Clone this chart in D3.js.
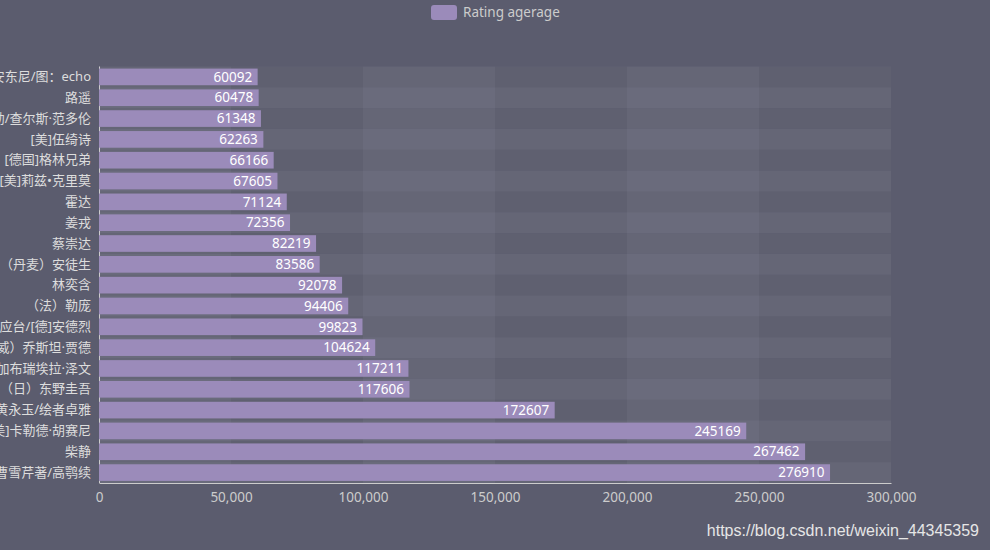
<!DOCTYPE html>
<html><head><meta charset="utf-8">
<script src="https://cdn.jsdelivr.net/npm/d3@7"></script>
<style>
html,body{margin:0;padding:0;background:#5b5c6e;}
svg{display:block;}
</style></head>
<body>
<svg id="chart" width="990" height="550"></svg>
<script>
// Categories from top to bottom as displayed
const authors = [
  "安东尼/图：echo",
  "路遥",
  "[美]莫提默·J.艾德勒/查尔斯·范多伦",
  "[美]伍绮诗",
  "[德国]格林兄弟",
  "[美]莉兹•克里莫",
  "霍达",
  "姜戎",
  "蔡崇达",
  "（丹麦）安徒生",
  "林奕含",
  "（法）勒庞",
  "龙应台/[德]安德烈",
  "（挪威）乔斯坦·贾德",
  "[美]加布瑞埃拉·泽文",
  "（日）东野圭吾",
  "沈从文/黄永玉/绘者卓雅",
  "[美]卡勒德·胡赛尼",
  "柴静",
  "[清]曹雪芹著/高鹗续"
];
const ratingCounts = [60092, 60478, 61348, 62263, 66166, 67605, 71124, 72356, 82219, 83586,
  92078, 94406, 99823, 104624, 117211, 117606, 172607, 245169, 267462, 276910];
const xTicks = [0, 50000, 100000, 150000, 200000, 250000, 300000];
const seriesName = "Rating agerage";
const watermark = "https://blog.csdn.net/weixin_44345359";

(function () {
const svg = d3.select("#chart");
const W = 990, H = 550;
const mLeft = 99, mRight = 891, mTop = 66.5, mBottom = 483;
const fontMix = "'Noto Sans','Noto Sans CJK SC',sans-serif";

svg.append("rect").attr("width", W).attr("height", H).attr("fill", "#5b5c6e");

const x = d3.scaleLinear().domain([0, 300000]).range([mLeft, mRight]);
const y = d3.scaleBand().domain(authors).range([mTop, mBottom]).paddingInner(0).paddingOuter(0);

// vertical split areas (x axis)
const g = svg.append("g");
for (let i = 0; i < xTicks.length - 1; i++) {
  g.append("rect")
    .attr("x", x(xTicks[i])).attr("y", mTop)
    .attr("width", x(xTicks[i + 1]) - x(xTicks[i])).attr("height", mBottom - mTop)
    .attr("fill", i % 2 === 0 ? "rgba(250,250,250,0.05)" : "rgba(200,200,200,0.02)");
}
// horizontal split areas (category axis; index 0 at bottom)
authors.forEach((a, i) => {
  const idx = authors.length - 1 - i;
  g.append("rect")
    .attr("x", mLeft).attr("y", y(a))
    .attr("width", mRight - mLeft).attr("height", y.bandwidth())
    .attr("fill", idx % 2 === 0 ? "rgba(250,250,250,0.05)" : "rgba(200,200,200,0.02)");
});

// y axis line
svg.append("line").attr("x1", mLeft + 0.5).attr("x2", mLeft + 0.5)
  .attr("y1", mTop).attr("y2", mBottom).attr("stroke", "#cccccc").attr("stroke-width", 1);

// bars
const barH = y.bandwidth() * 0.8;
svg.append("g").selectAll("rect").data(authors).join("rect")
  .attr("x", mLeft)
  .attr("y", d => y(d) + (y.bandwidth() - barH) / 2)
  .attr("width", (d, i) => x(ratingCounts[i]) - mLeft)
  .attr("height", barH)
  .attr("fill", "#9b8bba");

// value labels
svg.append("g").selectAll("text").data(authors).join("text")
  .attr("x", (d, i) => x(ratingCounts[i]) - 5.5)
  .attr("y", d => y(d) + y.bandwidth() / 2)
  .attr("dy", "0.35em")
  .attr("text-anchor", "end")
  .attr("fill", "#ffffff")
  .attr("font-family", fontMix)
  .attr("font-size", 13.5)
  .text((d, i) => ratingCounts[i]);

// x axis
const xAxis = d3.axisBottom(x).tickValues(xTicks).tickSize(0).tickPadding(9)
  .tickFormat(d3.format(","));
const xa = svg.append("g").attr("transform", `translate(0,${mBottom})`).call(xAxis);
xa.select(".domain").attr("stroke", "#cccccc");
xa.selectAll("text").attr("fill", "#cccccc").attr("font-family", fontMix).attr("font-size", 13.5);

// y axis labels
const yAxis = d3.axisLeft(y).tickSize(0).tickPadding(8);
const ya = svg.append("g").attr("transform", `translate(${mLeft},0)`).call(yAxis);
ya.select(".domain").remove();
ya.selectAll("text").attr("fill", "#dddddd").attr("font-family", fontMix).attr("font-size", 13);

// legend
const lg = svg.append("g");
lg.append("rect").attr("x", 431).attr("y", 5).attr("width", 26).attr("height", 15)
  .attr("rx", 3).attr("fill", "#9b8bba");
lg.append("text").attr("x", 463).attr("y", 12.5).attr("dy", "0.35em")
  .attr("fill", "#cccccc").attr("font-family", fontMix).attr("font-size", 13.5)
  .text(seriesName);

// watermark
svg.append("text").attr("x", 979).attr("y", 530).attr("dy", "0.35em")
  .attr("text-anchor", "end").attr("fill", "#e6e6e6")
  .attr("font-family", "'Liberation Sans',Arial,sans-serif").attr("font-size", 16)
  .text(watermark);
})();
</script>
</body></html>
